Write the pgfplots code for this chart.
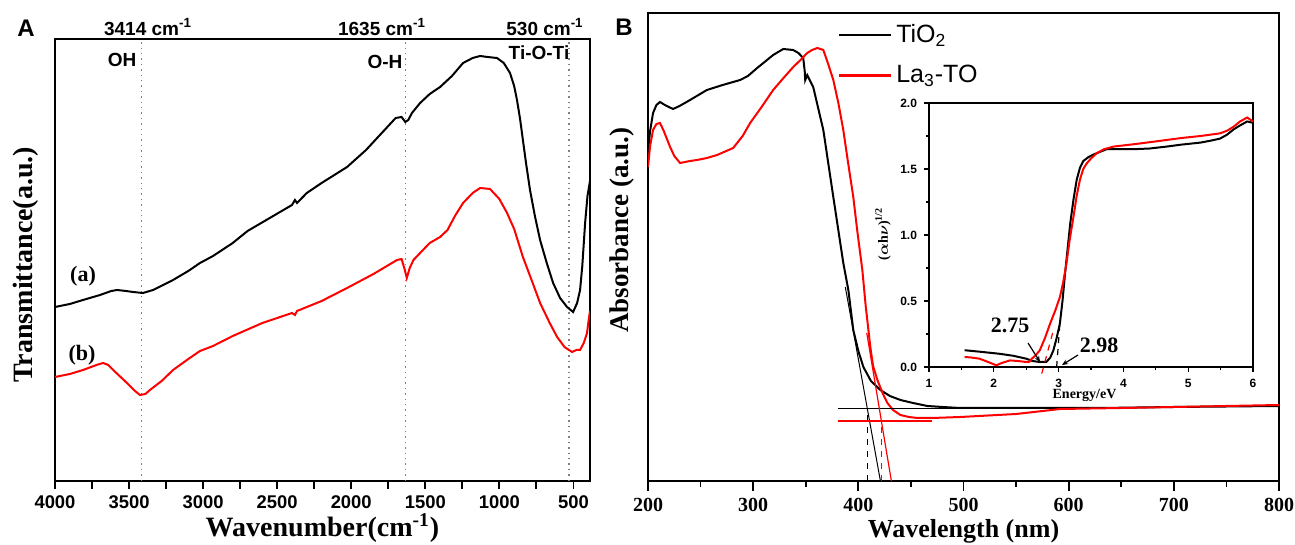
\documentclass[border=0pt]{standalone}
\usepackage{amsmath}
\usepackage{fontspec}
\setmainfont{Liberation Serif}
\newfontfamily\arial{Liberation Sans}
\usepackage{pgfplots}
\pgfplotsset{compat=1.18}
\usetikzlibrary{arrows.meta}
\DeclareRobustCommand{\fs}[1]{\fontsize{#1}{#1}\selectfont}
\begin{document}
\begin{tikzpicture}
\useasboundingbox (0,0) rectangle (647.5pt,272.5pt);
% ---------------- Panel A ----------------
\begin{axis}[
 at={(27.5pt,32pt)}, anchor=south west,
 width=267.5pt, height=221pt, scale only axis,
 x dir=reverse, xmin=388, xmax=4000, ymin=0, ymax=442,
 axis line style={line width=1.1pt},
 ytick=\empty, xtick={500,1000,...,4000}, minor xtick={750,1250,...,3750},
 xtick pos=bottom, tick align=outside, major tick length=4pt, minor tick length=4pt,
 every tick/.append style={black, line width=0.9pt},
 xticklabel style={font=\arial\bfseries\fs{9.2}},
 /pgf/number format/assume math mode=true, /pgf/number format/1000 sep={},
 xlabel={\bfseries Wavenumber(cm\textsuperscript{-1})},
 xlabel style={font=\fs{14}, at={(axis description cs:0.5,-0.106)}, anchor=center},
 ylabel={\bfseries Transmittance(a.u.)},
 ylabel style={font=\fs{14}, at={(axis description cs:-0.054,0.489)}, anchor=center},
]
\draw[gray, dotted, line width=0.7pt] (axis cs:3414,0) -- (axis cs:3414,442);
\draw[gray, dotted, line width=0.7pt] (axis cs:1635,0) -- (axis cs:1635,442);
\draw[gray, dotted, line width=0.7pt] (axis cs:530,0) -- (axis cs:530,442);
\addplot[black, line width=1pt] coordinates {
(4000,174)(3900,177)(3811,181)(3696,186)(3620,190)(3581,191)(3520,190)(3473,189)(3406,188)(3338,191)(3203,201)(3100,210)(3021,218)(2933,225)(2800,238)(2700,250)(2550,263)(2400,276)(2380,281)(2366,278)(2300,288)(2200,298)(2028,314)(1900,331)(1800,347)(1700,363)(1660,364)(1635,359)(1615,361)(1590,368)(1535,378)(1470,387)(1400,394)(1320,405)(1245,418)(1180,423)(1130,425)(1080,424)(1016,423)(970,418)(928,408)(900,395)(881,381)(860,362)(841,341)(820,318)(793,291)(760,265)(725,241)(680,218)(637,198)(590,183)(543,174)(502,169)(475,178)(455,191)(440,215)(421,258)(405,285)(388,300)};
\addplot[red, line width=1pt] coordinates {
(4000,104)(3900,107)(3811,111)(3720,116)(3676,118)(3640,116)(3600,110)(3514,98)(3460,90)(3426,86)(3390,87)(3359,91)(3280,100)(3203,111)(3100,122)(3021,130)(2933,135)(2800,145)(2600,158)(2400,168)(2380,166)(2366,170)(2200,180)(2028,193)(1850,207)(1691,221)(1660,222)(1640,212)(1625,203)(1605,213)(1580,221)(1535,228)(1470,238)(1400,244)(1350,251)(1300,265)(1245,278)(1180,288)(1130,293)(1063,292)(1000,282)(948,268)(900,252)(841,224)(780,200)(725,178)(660,158)(610,144)(560,134)(509,129)(480,131)(455,131)(430,138)(408,148)(398,160)(388,170)};
\end{axis}
% ---------------- Panel B ----------------
\begin{axis}[
 at={(324pt,32pt)}, anchor=south west,
 width=315.5pt, height=234pt, scale only axis,
 xmin=200, xmax=800, ymin=0, ymax=468,
 axis line style={line width=1.1pt},
 ytick=\empty, xtick={200,300,...,800}, minor xtick={250,350,...,750},
 xtick pos=bottom, tick align=outside, major tick length=5pt, minor tick length=3pt,
 every tick/.append style={black, line width=0.9pt},
 xticklabel style={font=\bfseries\fs{10}},
 /pgf/number format/assume math mode=true,
 xlabel={\bfseries Wavelength (nm)},
 xlabel style={font=\fs{13}, at={(axis description cs:0.5,-0.107)}, anchor=center},
 ylabel={\bfseries Absorbance (a.u.)},
 ylabel style={font=\fs{13.5}, at={(axis description cs:-0.041,0.536)}, anchor=center},
 legend style={draw=none, fill=none, at={(axis description cs:0.30,0.985)}, anchor=north west,
   font=\arial\fs{12.5}, row sep=6pt, inner sep=0pt, nodes={inner sep=2pt}},
 legend cell align=left,
 legend image code/.code={\draw[#1, line width=1.3pt] (0pt,0pt) -- (26pt,0pt);},
]
\addplot[black, line width=1pt] coordinates {
(200,330)(202,350)(204.8,368)(208,376)(211.4,379)(216,376)(223.8,372)(230,375)(240,381)(256,391)(271,396)(287.6,401)(295,405)(303.8,413)(312,420)(319,426)(328.6,432)(338,431)(343,428)(347.6,423)(349,410)(349.5,401)(351.4,406)(357.1,394)(366.7,351)(376.2,284)(385.7,218)(390.5,191)(395.2,151)(400,130)(404.8,114)(412,100)(421,91)(430,85)(440,81)(452,78)(465.7,75)(480,74)(497,73)(550,73)(630,73)(700,74)(800,75)};
\addlegendentry{TiO\textsubscript{2}}
\addplot[red, line width=1pt] coordinates {
(200,314)(202,335)(204.8,351)(208,357)(211.4,358)(215,350)(221,334)(225,325)(230.5,318)(240,320)(246.7,321)(256,323)(265.7,326)(281,333)(290,345)(297.1,358)(308,374)(319,391)(328,402)(338.1,414)(345,421)(351.4,428)(356,431)(361,433)(366.7,431)(371,418)(376.2,401)(381,378)(385.7,351)(390,320)(395.2,284)(399,250)(403.8,211)(407,175)(411.4,134)(414,115)(418.1,101)(423,88)(427.6,78)(433,71)(440,66)(448,64)(456.2,63)(470,63)(497,64)(550,67)(592,72)(650,73)(700,74)(800,76)};
\addlegendentry{La\textsubscript{3}-TO}
\addplot[black, line width=0.5pt, forget plot] coordinates {(387.6,194)(421,0)};
\addplot[black, line width=0.5pt, forget plot] coordinates {(381,72)(560,72)};
\addplot[black, dashed, line width=0.6pt, forget plot] coordinates {(408.6,0)(408.6,72)};
\addplot[red, line width=0.6pt, forget plot] coordinates {(408,148)(431.4,0)};
\addplot[red, line width=0.6pt, forget plot] coordinates {(381,60)(470,60)};
\addplot[red, dashed, line width=0.6pt, forget plot] coordinates {(421.9,0)(421.9,60)};
\end{axis}
% ---------------- Inset ----------------
\begin{axis}[
 at={(464.5pt,89pt)}, anchor=south west,
 width=162pt, height=132pt, scale only axis,
 xmin=1, xmax=6, ymin=0, ymax=2, clip=false,
 axis line style={line width=0.8pt},
 xtick={1,2,3,4,5,6}, minor xtick={1.5,2.5,3.5,4.5,5.5},
 ytick={0,0.5,1,1.5,2}, minor ytick={0.25,0.75,1.25,1.75},
 xtick pos=bottom, ytick pos=left, tick align=outside, major tick length=2.5pt, minor tick length=1.5pt,
 every tick/.append style={black, line width=0.6pt},
 xticklabel style={font=\arial\bfseries\fs{6}},
 yticklabel style={font=\arial\bfseries\fs{6}, /pgf/number format/fixed, /pgf/number format/fixed zerofill, /pgf/number format/precision=1},
 /pgf/number format/assume math mode=true,
 xlabel={\bfseries Energy/eV},
 xlabel style={font=\fs{7}, at={(axis description cs:0.48,-0.106)}, anchor=center},
 ylabel={\bfseries ($\boldsymbol{\alpha}$h$\boldsymbol{\nu}$)\textsuperscript{1/2}},
 ylabel style={font=\fs{7}, at={(axis description cs:-0.142,0.504)}, anchor=center},
]
\addplot[black, line width=1pt] coordinates {
(1.55,0.127)(1.8,0.115)(2.09,0.10)(2.3,0.085)(2.5,0.063)(2.6,0.045)(2.71,0.038)(2.81,0.038)(2.87,0.07)(2.92,0.127)(2.97,0.22)(3.02,0.33)(3.06,0.5)(3.10,0.71)(3.14,0.9)(3.18,1.09)(3.23,1.27)(3.28,1.42)(3.33,1.51)(3.38,1.56)(3.46,1.59)(3.54,1.61)(3.64,1.63)(3.74,1.65)(4.15,1.65)(4.4,1.655)(4.67,1.67)(4.9,1.685)(5.19,1.70)(5.35,1.715)(5.49,1.73)(5.6,1.76)(5.70,1.80)(5.8,1.83)(5.91,1.86)(6.0,1.85)};
\addplot[red, line width=1pt] coordinates {
(1.55,0.076)(1.65,0.072)(1.78,0.063)(1.9,0.04)(2.04,0.013)(2.12,0.03)(2.25,0.05)(2.38,0.045)(2.5,0.038)(2.55,0.04)(2.58,0.06)(2.65,0.09)(2.71,0.127)(2.79,0.22)(2.87,0.33)(2.95,0.43)(3.02,0.53)(3.07,0.64)(3.12,0.78)(3.17,0.96)(3.23,1.14)(3.28,1.30)(3.33,1.42)(3.38,1.50)(3.43,1.54)(3.5,1.58)(3.59,1.62)(3.7,1.65)(3.85,1.67)(4.2,1.69)(4.67,1.72)(4.9,1.735)(5.19,1.75)(5.49,1.77)(5.6,1.79)(5.70,1.82)(5.8,1.86)(5.91,1.89)(6.0,1.86)};
\addplot[black, dashed, line width=0.6pt] coordinates {(2.97,0)(3.02,0.33)};
\addplot[red, dashed, line width=0.6pt] coordinates {(2.74,-0.05)(2.92,0.28)};
\end{axis}
% ---------------- Annotations (pixel coordinates) ----------------
\begin{scope}[x=0.5pt, y=-0.5pt, yshift=272.5pt]
\node[font=\arial\bfseries\fs{12}] at (26,28) {A};
\node[font=\arial\bfseries\fs{12}] at (624,27) {B};
\node[font=\arial\bfseries\fs{9.5}] at (148,27) {3414 cm\textsuperscript{-1}};
\node[font=\arial\bfseries\fs{9.5}] at (382,27) {1635 cm\textsuperscript{-1}};
\node[font=\arial\bfseries\fs{9.5}] at (545,27) {530 cm\textsuperscript{-1}};
\node[font=\arial\bfseries\fs{9.5}] at (122,60) {OH};
\node[font=\arial\bfseries\fs{9.5}] at (385,62) {O-H};
\node[font=\arial\bfseries\fs{9.5}] at (539,53) {Ti-O-Ti};
\node[font=\bfseries\fs{11}] at (83,276) {(a)};
\node[font=\bfseries\fs{11}] at (82,355) {(b)};
\node[font=\bfseries\fs{11}] at (1010,325) {2.75};
\node[font=\bfseries\fs{11}] at (1099,345) {2.98};
\draw[-{Stealth[length=3pt,width=2.5pt]}, line width=0.6pt] (1028,343) -- (1040,362);
\draw[-{Stealth[length=3pt,width=2.5pt]}, line width=0.6pt] (1078,355) -- (1062,365);
\end{scope}
\end{tikzpicture}
\end{document}
